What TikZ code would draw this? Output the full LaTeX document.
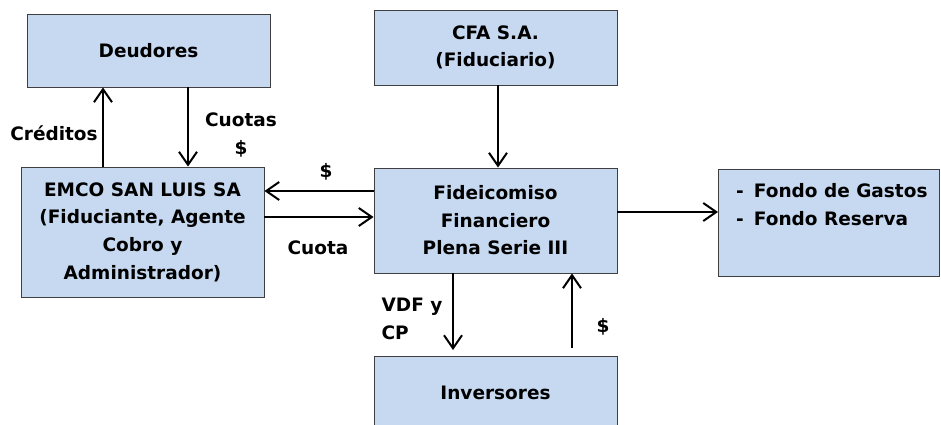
\documentclass[tikz,border=0pt]{standalone}
\usepackage{fontspec}
\setmainfont{DejaVu Sans}
\usetikzlibrary{arrows.meta}
\definecolor{boxfill}{HTML}{C6D9F1}
\definecolor{boxline}{HTML}{3F3F3F}
\tikzset{
  blk/.style={draw=boxline, line width=0.9pt, fill=boxfill, inner sep=0pt,
    font=\fontsize{18.5}{27.6}\selectfont\bfseries, align=center},
  flow/.style={line width=2pt, -{Straight Barb[length=13pt,width=18pt,line width=2pt]}},
  lbl/.style={font=\fontsize{18.5}{28.5}\selectfont\bfseries, inner sep=0pt, align=left}
}
\begin{document}
\begin{tikzpicture}[x=1pt,y=-1pt]
\useasboundingbox (0,0) rectangle (941,425);
% boxes
\node[blk, minimum width=243pt, minimum height=73pt] (deu) at (148.5,50.5) {Deudores};
\node[blk, minimum width=243pt, minimum height=130pt] (emco) at (142.5,232) {EMCO SAN LUIS SA\\(Fiduciante, Agente\\Cobro y\\Administrador)};
\node[blk, minimum width=243pt, minimum height=75pt] (cfa) at (495.5,47.5) {CFA S.A.\\(Fiduciario)};
\node[blk, minimum width=243pt, minimum height=105pt] (fid) at (495.5,220.5) {Fideicomiso\\Financiero\\Plena Serie III};
\node[blk, minimum width=243pt, minimum height=74pt] (inv) at (495.5,393) {Inversores};
\node[blk, minimum width=221pt, minimum height=107pt, anchor=north west, align=left] (fon) at (718,169) {};
\node[lbl, anchor=north west] (fontxt) at (736,183) {-\hspace{10pt}Fondo de Gastos\\-\hspace{10pt}Fondo Reserva};
% connectors
\coordinate (c1a) at (103,167); \coordinate (c1b) at (103,87);
\draw[flow] (emco.north -| c1a) -- (deu.south -| c1b);
\coordinate (c2) at (188,0);
\draw[flow] (deu.south -| c2) -- (emco.north -| c2);
\coordinate (c3) at (498,0);
\draw[flow] (cfa.south -| c3) -- (fid.north -| c3);
\coordinate (c4) at (0,191);
\draw[flow] (fid.west |- c4) -- (emco.east |- c4);
\coordinate (c5) at (0,217);
\draw[flow] (emco.east |- c5) -- (fid.west |- c5);
\coordinate (c6) at (0,212);
\draw[flow] (fid.east |- c6) -- (fon.west |- c6);
\coordinate (c7a) at (453,350);
\draw[flow] (fid.south -| c7a) -- (c7a);
\coordinate (c8a) at (572,348);
\draw[flow] (c8a) -- (fid.south -| c8a);
% labels
\node[lbl] (lcre) at (54,133) {Créditos};
\node[lbl, align=center] (lcuo) at (241,135) {Cuotas\\\$};
\node[lbl] (ldol1) at (326,172) {\$};
\node[lbl] (lcuota) at (318,248) {Cuota};
\node[lbl] (lvdf) at (412,319) {VDF y\\CP};
\node[lbl] (ldol2) at (603,327) {\$};
\end{tikzpicture}
\end{document}
